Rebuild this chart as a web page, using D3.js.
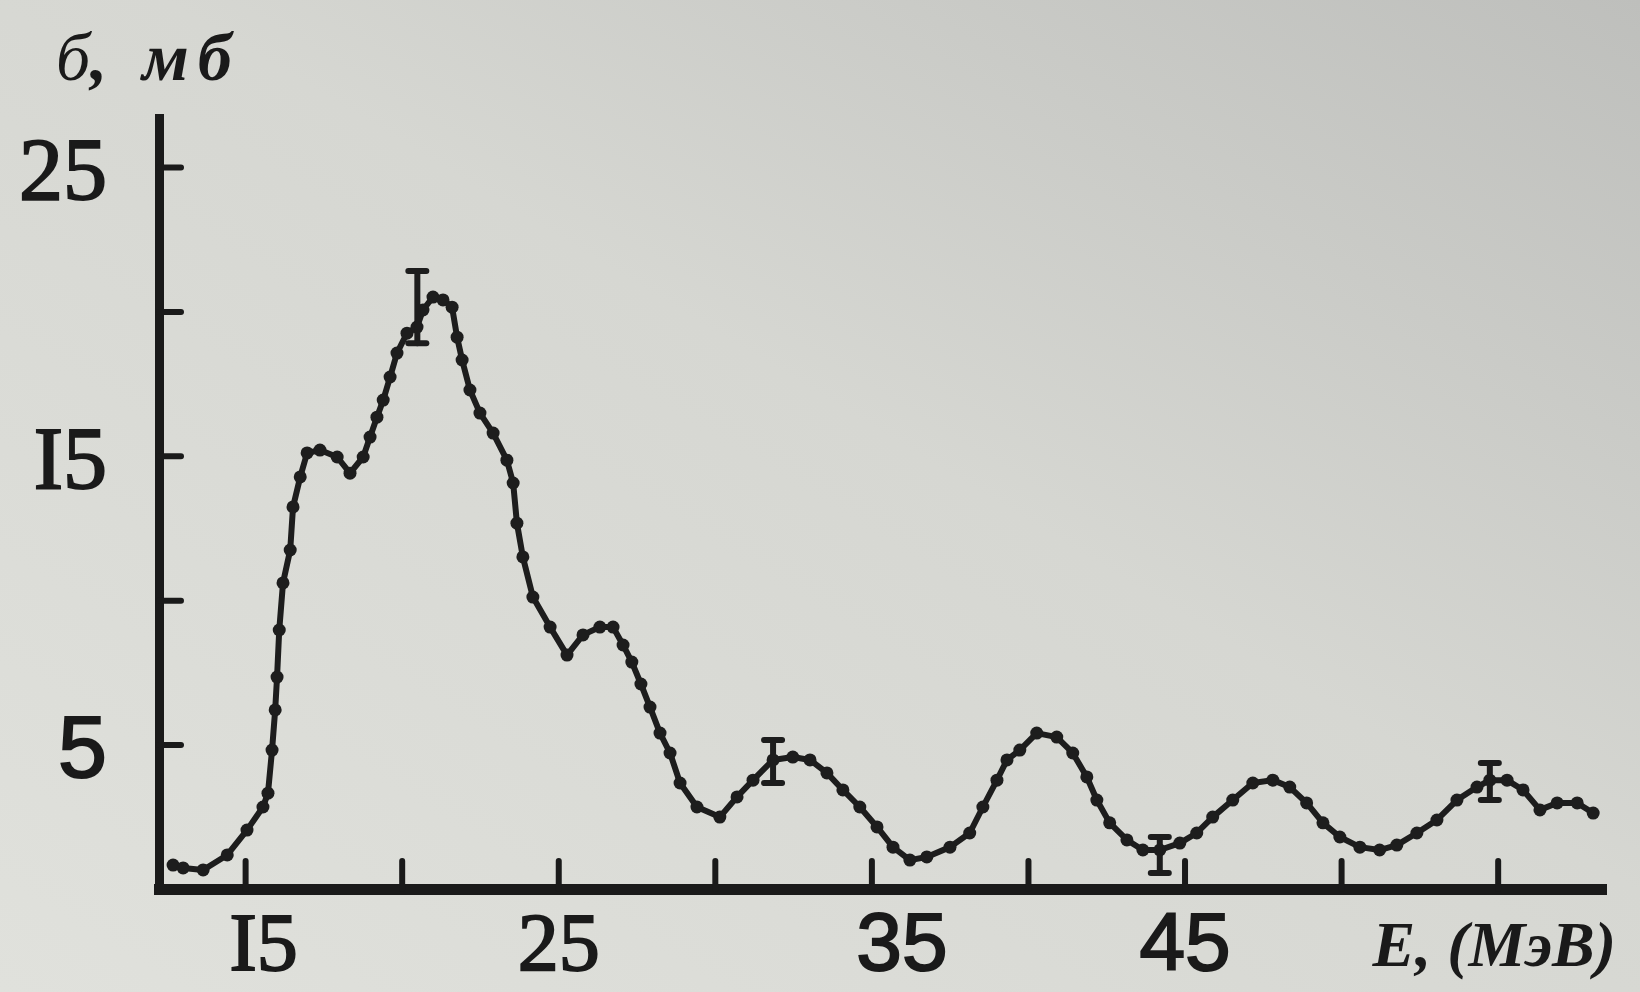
<!DOCTYPE html>
<html>
<head>
<meta charset="utf-8">
<script src="https://cdn.jsdelivr.net/npm/d3@7/dist/d3.min.js"></script>
<style>
  body { margin: 0; background: #d4d5d0; }
  svg { display: block; }
  .curve { fill: none; stroke: #1d1d1d; stroke-width: 6px; stroke-linejoin: round; }
  .dot { fill: #1d1d1d; }
  .err { stroke: #1d1d1d; stroke-width: 6px; stroke-linecap: round; }
  .axis path.domain { stroke: #1a1a1a; stroke-linecap: square; }
  .axis .tick line { stroke: #1a1a1a; stroke-width: 6px; stroke-linecap: round; }
  .axis text { fill: #1a1a1a; stroke: #1a1a1a; stroke-width: 2px; }
  .title { fill: #1a1a1a; font-family: "Liberation Serif", "DejaVu Serif", serif; }
</style>
</head>
<body>
<div class="canvas"></div>
<script>
/* cross-section curve */
var energy = [12.70, 13.02, 13.66, 14.43, 15.06, 15.57, 15.73, 15.86, 15.96, 16.02,
    16.09, 16.21, 16.44, 16.53, 16.76, 16.98, 17.39, 17.94, 18.35, 18.77,
    18.99, 19.21, 19.41, 19.63, 19.85, 20.17, 20.49, 20.68, 21.00, 21.32,
    21.61, 21.77, 21.93, 22.18, 22.50, 22.92, 23.36, 23.56, 23.68, 23.87,
    24.19, 24.74, 25.28, 25.79, 26.33, 26.75, 27.07, 27.35, 27.64, 27.93,
    28.25, 28.57, 28.89, 29.43, 30.16, 30.71, 31.22, 31.86, 32.49, 33.04,
    33.58, 34.09, 34.63, 35.18, 35.69, 36.23, 36.77, 37.51, 38.14, 38.56,
    39.01, 39.33, 39.74, 40.28, 40.92, 41.43, 41.88, 42.20, 42.61, 43.16,
    43.67, 44.21, 44.85, 45.39, 45.90, 46.54, 47.18, 47.82, 48.36, 48.90,
    49.42, 49.96, 50.60, 51.23, 51.78, 52.42, 53.06, 53.70, 54.34, 54.75,
    55.30, 55.81, 56.35, 56.90, 57.54, 58.05];
var sigma = [0.83, 0.73, 0.66, 1.18, 2.04, 2.84, 3.32, 4.81, 6.20, 7.34,
    8.97, 10.60, 11.74, 13.23, 14.27, 15.10, 15.20, 14.96, 14.40, 14.96,
    15.65, 16.34, 16.93, 17.73, 18.56, 19.25, 19.46, 20.05, 20.50, 20.40,
    20.15, 19.11, 18.32, 17.28, 16.48, 15.79, 14.85, 14.06, 12.67, 11.50,
    10.11, 9.07, 8.10, 8.80, 9.07, 9.07, 8.45, 7.86, 7.10, 6.30,
    5.40, 4.71, 3.67, 2.84, 2.49, 3.19, 3.77, 4.47, 4.57, 4.47,
    4.02, 3.43, 2.84, 2.15, 1.45, 1.00, 1.11, 1.45, 1.94, 2.84,
    3.77, 4.47, 4.81, 5.40, 5.26, 4.71, 3.88, 3.08, 2.29, 1.70,
    1.35, 1.35, 1.59, 1.94, 2.49, 3.08, 3.67, 3.77, 3.53, 2.98,
    2.29, 1.80, 1.45, 1.35, 1.52, 1.94, 2.39, 3.08, 3.53, 3.77,
    3.77, 3.43, 2.74, 2.98, 2.98, 2.63];

/* error bars */
var errEnergy = [20.5, 31.86, 44.21, 54.75];
var errLow = [18.9, 3.67, 0.55, 3.08];
var errHigh = [21.4, 5.16, 1.80, 4.36];

/* axes */
var xTicks = [15, 20, 25, 30, 35, 40, 45, 50, 55];
var xLabels = {15: 'I5', 25: '25', 35: '35', 45: '45'};
var yTicks = [5, 10, 15, 20, 25];
var yLabels = {5: '5', 15: 'I5', 25: '25'};
var xTitle = 'E, (МэВ)';
var yTitle = ['б', ', мб'];

var width = 1640, height = 992;

var svg = d3.select('.canvas')
    .append('svg')
    .attr('width', width)
    .attr('height', height);

// paper tone of the scan
var grad = svg.append('defs').append('linearGradient')
    .attr('id', 'paper')
    .attr('x1', 0).attr('y1', 1).attr('x2', 1).attr('y2', 0);
grad.append('stop').attr('offset', '0%').attr('stop-color', '#e0e1dc');
grad.append('stop').attr('offset', '55%').attr('stop-color', '#d6d7d2');
grad.append('stop').attr('offset', '100%').attr('stop-color', '#bebfbc');
svg.append('rect')
    .attr('width', width)
    .attr('height', height)
    .style('fill', 'url(#paper)');

var x = d3.scaleLinear().domain([12.25, 58.3]).range([159, 1601]);
var y = d3.scaleLinear().domain([0, 26.7]).range([889, 118]);

var xAxis = d3.axisBottom(x)
    .tickValues(xTicks)
    .tickSize(-28)
    .tickSizeOuter(0)
    .tickPadding(23)
    .tickFormat(function(d){ return xLabels[d] || ''; });

var yAxis = d3.axisLeft(y)
    .tickValues(yTicks)
    .tickSize(-22)
    .tickSizeOuter(0)
    .tickPadding(52)
    .tickFormat(function(d){ return yLabels[d] || ''; });

var gx = svg.append('g')
    .attr('class', 'axis x')
    .attr('transform', 'translate(0,' + y(0) + ')')
    .call(xAxis);
gx.select('.domain').style('stroke-width', '11px');

var gy = svg.append('g')
    .attr('class', 'axis y')
    .attr('transform', 'translate(' + x(12.25) + ',0)')
    .call(yAxis);
gy.select('.domain').style('stroke-width', '9px');

// the scan mixes a slab serif face and a grotesque face for the numbers
function labelFace(t){
    return (t === 'I5' || t === '25') ? '"Liberation Serif", serif' : '"Liberation Sans", sans-serif';
}
// pasted-in labels sit a little off their ticks in the scan
var labelShift = {15: 18, 35: 30};
gx.selectAll('text')
    .style('font-size', '82px')
    .attr('dx', function(d){ return labelShift[d] || 0; });
gy.selectAll('text').style('font-size', '88px').attr('dy', '0.36em');
svg.selectAll('.axis text')
    .style('font-family', function(){ return labelFace(d3.select(this).text()); });

// curve
var line = d3.line()
    .x(function(d){ return x(d[0]); })
    .y(function(d){ return y(d[1]); });
var pts = energy.map(function(e, i){ return [e, sigma[i]]; });

svg.append('path')
    .datum(pts)
    .attr('class', 'curve')
    .attr('d', line);

svg.selectAll('.dot')
    .data(pts)
    .enter().append('circle')
    .attr('class', 'dot')
    .attr('cx', function(d){ return x(d[0]); })
    .attr('cy', function(d){ return y(d[1]); })
    .attr('r', 6.5);

// error bars
var errs = errEnergy.map(function(e, i){ return {e: e, lo: errLow[i], hi: errHigh[i]}; });
var eg = svg.selectAll('.errbar')
    .data(errs)
    .enter().append('g')
    .attr('class', 'errbar');
eg.append('line').attr('class', 'err')
    .attr('x1', function(d){ return x(d.e); })
    .attr('x2', function(d){ return x(d.e); })
    .attr('y1', function(d){ return y(d.lo); })
    .attr('y2', function(d){ return y(d.hi); });
eg.append('line').attr('class', 'err')
    .attr('x1', function(d){ return x(d.e) - 9; })
    .attr('x2', function(d){ return x(d.e) + 9; })
    .attr('y1', function(d){ return y(d.hi); })
    .attr('y2', function(d){ return y(d.hi); });
eg.append('line').attr('class', 'err')
    .attr('x1', function(d){ return x(d.e) - 9; })
    .attr('x2', function(d){ return x(d.e) + 9; })
    .attr('y1', function(d){ return y(d.lo); })
    .attr('y2', function(d){ return y(d.lo); });

// axis titles
var yt = svg.append('text')
    .attr('class', 'title')
    .attr('x', 56)
    .attr('y', 80)
    .style('font-size', '68px');
yt.append('tspan')
    .style('font-style', 'italic')
    .text(yTitle[0]);
yt.append('tspan')
    .style('font-style', 'italic')
    .style('font-weight', 'bold')
    .style('letter-spacing', '9px')
    .text(yTitle[1]);

svg.append('text')
    .attr('class', 'title')
    .attr('x', 1616)
    .attr('y', 966)
    .attr('text-anchor', 'end')
    .style('font-size', '64px')
    .style('font-style', 'italic')
    .style('font-weight', 'bold')
    .text(xTitle);
</script>
</body>
</html>
